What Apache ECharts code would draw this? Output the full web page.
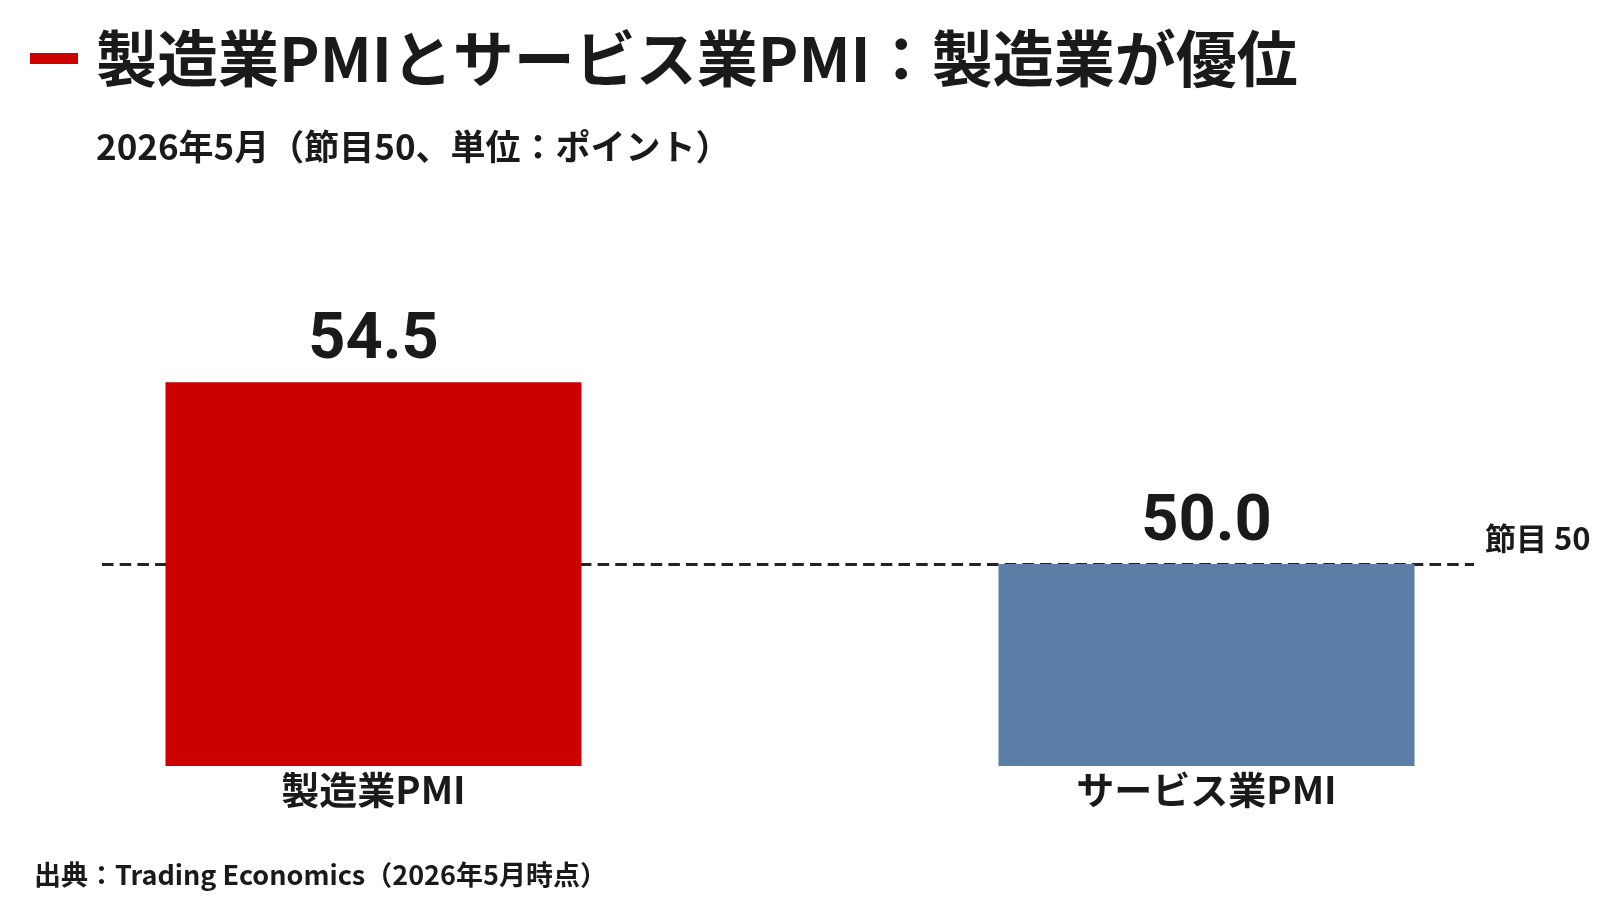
<!DOCTYPE html>
<html>
<head>
<meta charset="utf-8">
<script src="https://cdn.jsdelivr.net/npm/echarts@6/dist/echarts.min.js"></script>
<style>
  html, body { margin: 0; padding: 0; background: #fff; }
  #chart { width: 1620px; height: 918px; }
</style>
</head>
<body>
<div id="chart"></div>
<script>
// data
const categories = ["製造業PMI", "サービス業PMI"];
const values = [54.5, 50.0];
const barColors = ["#cc0000", "#5b7da6"];
const threshold = 50;

const titleText = "製造業PMIとサービス業PMI：製造業が優位";
const subText = "2026年5月（節目50、単位：ポイント）";
const sourceText = "出典：Trading Economics（2026年5月時点）";

const font = '"Noto Sans CJK JP", "Noto Sans", sans-serif';
const numFont = 'Roboto, "Noto Sans", sans-serif';
const ink = "#1a1a1a";

let chart = echarts.init(document.getElementById("chart"));

let option = {
  backgroundColor: "#fff",
  animation: false,
  textStyle: { fontFamily: font },
  title: [
    {
      text: titleText,
      left: 91,
      top: 23,
      textStyle: { color: ink, fontSize: 61, fontWeight: "bold", fontFamily: font }
    },
    {
      text: subText,
      left: 91,
      top: 124,
      textStyle: { color: ink, fontSize: 35, fontWeight: "bold", fontFamily: font }
    },
    {
      text: sourceText,
      left: 29,
      top: 856,
      textStyle: { color: ink, fontSize: 27, fontWeight: "bold", fontFamily: font }
    }
  ],
  graphic: [
    {
      type: "rect",
      shape: { x: 30, y: 53, width: 48, height: 11 },
      style: { fill: "#cc0000" }
    }
  ],
  grid: {
    left: -43,
    width: 1666,
    top: 160,
    bottom: 152,
    outerBoundsMode: "none"
  },
  xAxis: {
    type: "category",
    data: categories,
    axisLine: { show: false },
    axisTick: { show: false },
    axisLabel: {
      margin: 5,
      color: ink,
      fontSize: 38,
      fontWeight: "bold",
      fontFamily: font
    }
  },
  yAxis: {
    type: "value",
    min: 45,
    max: 60,
    show: false,
    splitLine: { show: false }
  },
  series: [
    {
      type: "bar",
      z: 3,
      barWidth: 416,
      data: values.map((v, i) => ({ value: v, itemStyle: { color: barColors[i] } })),
      label: {
        show: true,
        position: "top",
        distance: 8,
        color: ink,
        fontSize: 65,
        fontWeight: "bold",
        fontFamily: numFont,
        formatter: p => p.value.toFixed(1)
      },
      markLine: {
        z: 1,
        silent: true,
        symbol: "none",
        lineStyle: { color: "#222", width: 3, type: [11.5, 6.2] },
        label: {
          show: true,
          position: "end",
          distance: 11,
          lineHeight: 52,
          color: ink,
          fontSize: 31,
          fontWeight: "bold",
          fontFamily: font,
          formatter: "節目 " + threshold + "\n "
        },
        data: [
          [
            { x: 102, yAxis: threshold },
            { x: 1474, yAxis: threshold }
          ]
        ]
      }
    }
  ]
};

chart.setOption(option);
</script>
</body>
</html>
